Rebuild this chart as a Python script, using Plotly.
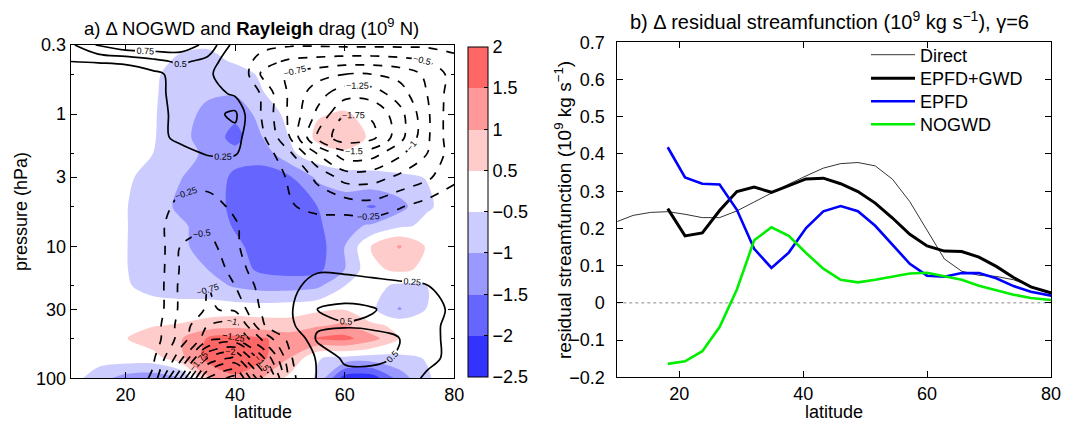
import numpy as np
import plotly.graph_objects as go

FONT = "Liberation Sans, Arial, Helvetica, sans-serif"
W, H = 1066, 421

# ---------------- Panel a: gridded fields ----------------
lat_grid = [10, 15, 20, 25, 30, 35, 40, 45, 50, 55, 60, 65, 70, 75, 80]
p_grid = [0.3, 0.4, 0.5, 0.7, 1, 1.5, 2, 3, 5, 7, 10, 15, 20, 30, 40, 50, 70, 100]

# Delta NOGWD (filled), 1e9 N
nogwd = [
    [0, 0, 0, 0, -0.3, -0.4, -0.3, -0.1, 0, 0, 0, 0, 0, 0, 0],
    [0, 0, 0, -0.15, -0.6, -0.65, -0.4, -0.15, 0, 0, 0, 0, 0, 0, 0],
    [0, 0, 0, -0.3, -0.75, -0.8, -0.7, -0.35, 0, 0, 0, 0, 0, 0, 0],
    [0, 0, 0, -0.35, -0.8, -0.95, -0.95, -0.52, -0.1, 0, 0, 0, 0, 0, 0],
    [0, 0, 0, -0.38, -0.85, -1.1, -1.35, -0.8, -0.2, 0.42, 0.55, 0.2, 0, 0, 0],
    [0, 0, 0, -0.4, -0.9, -1.15, -1.7, -1.0, -0.45, 0.6, 0.75, 0.35, 0, 0, 0],
    [0, 0, -0.1, -0.5, -0.9, -1.05, -1.3, -1.3, -0.6, 0.1, 0.35, 0, 0, 0, 0],
    [0, 0, -0.3, -0.7, -0.98, -1.2, -1.6, -1.7, -1.55, -0.9, -0.7, -0.6, -0.55, -0.48, -0.2],
    [0, 0, -0.45, -0.75, -1.1, -1.3, -1.6, -1.8, -1.75, -1.5, -1.3, -1.55, -1.2, -0.55, -0.2],
    [0, 0, -0.45, -0.75, -0.92, -1.2, -1.55, -1.85, -1.85, -1.6, -1.1, -0.95, -0.6, -0.3, 0],
    [0, 0, -0.45, -0.8, -0.95, -1.1, -1.4, -1.7, -1.9, -1.75, -1.0, 0.55, 1.05, 0.4, 0],
    [0, 0, -0.45, -0.75, -0.9, -1.0, -1.3, -1.6, -1.7, -1.65, -1.0, 0.3, 0.6, 0.3, 0],
    [0, 0, -0.4, -0.65, -0.75, -0.8, -1.05, -1.2, -1.2, -1.1, -0.5, -0.2, -0.6, -0.5, 0],
    [0, 0, 0, -0.1, -0.1, -0.05, 0, 0, 0.1, 0.3, 0.45, -0.3, -1.05, -0.45, 0],
    [0, 0, 0.2, 0.45, 0.55, 0.75, 0.85, 0.75, 0.7, 0.95, 1.1, 0.6, 0.3, 0, 0],
    [0, 0.1, 0.45, 0.8, 0.95, 1.55, 1.7, 1.55, 1.3, 1.55, 1.65, 1.2, 0.45, 0.1, 0],
    [0, 0, 0.05, 0.1, 0.85, 1.7, 1.9, 1.6, 1.0, -0.45, -0.6, -0.7, -0.6, -0.45, 0],
    [0, -0.8, -1.2, -1.3, -1.1, 0.9, 1.4, 1.0, 0.2, -0.55, -2.3, -2.3, -1.3, -0.55, 0],
]

# Rayleigh drag (contour lines), 1e9 N
rayleigh = [
    [0.45, 0.78, 0.95, 0.95, 0.9, 0.68, 0.15, -0.15, -0.22, -0.22, -0.2, -0.2, -0.2, -0.2, -0.15],
    [0.25, 0.27, 0.3, 0.42, 0.55, 0.42, 0.0, -0.4, -0.55, -0.6, -0.65, -0.65, -0.6, -0.5, -0.35],
    [0.05, 0.08, 0.1, 0.18, 0.35, 0.3, 0.05, -0.55, -0.8, -0.9, -1.0, -1.0, -0.92, -0.7, -0.4],
    [0, 0, 0, 0.15, 0.36, 0.38, 0.2, -0.3, -0.8, -1.15, -1.4, -1.38, -1.12, -0.75, -0.35],
    [0, 0, 0, 0.12, 0.35, 0.4, 0.56, -0.3, -0.8, -1.3, -1.74, -1.72, -1.35, -0.8, -0.3],
    [0, 0, 0, 0.1, 0.35, 0.42, 0.4, -0.2, -0.75, -1.55, -1.92, -1.82, -1.35, -0.8, -0.3],
    [0, 0, 0, 0.05, 0.1, 0.28, 0.28, -0.1, -0.45, -1.0, -1.4, -1.35, -1.05, -0.75, -0.35],
    [0, 0, 0, 0, -0.1, -0.15, -0.1, 0, -0.3, -0.55, -0.85, -0.85, -0.7, -0.55, -0.3],
    [0, 0, 0, -0.05, -0.35, -0.35, -0.2, -0.1, -0.22, -0.35, -0.35, -0.4, -0.27, -0.15, -0.1],
    [0, 0, 0, -0.1, -0.45, -0.45, -0.28, -0.05, 0, -0.1, -0.12, -0.12, -0.1, 0, 0],
    [0, 0, 0, -0.05, -0.5, -0.6, -0.3, 0, 0, 0, 0, 0, 0, 0, 0],
    [0, 0, 0, -0.05, -0.52, -0.7, -0.4, -0.05, 0.05, 0.22, 0.22, 0.2, 0.18, 0.1, 0],
    [0, 0, 0, -0.05, -0.55, -0.75, -0.5, -0.15, 0.18, 0.35, 0.32, 0.3, 0.28, 0.26, 0.15],
    [0, 0, 0, -0.05, -0.55, -0.78, -0.7, -0.2, 0.22, 0.5, 0.56, 0.52, 0.4, 0.35, 0.2],
    [0, 0, 0, -0.1, -0.6, -1.0, -1.1, -0.3, 0.2, 0.45, 0.48, 0.45, 0.38, 0.3, 0.2],
    [0, 0, 0, -0.1, -0.6, -1.15, -1.3, -0.7, -0.15, 0.55, 0.6, 0.6, 0.5, 0.35, 0.15],
    [0, 0, 0, -0.2, -0.9, -2.0, -2.3, -1.3, -0.3, 0.3, 0.55, 0.55, 0.48, 0.3, 0.2],
    [0, 0, 0, -0.3, -1.5, -2.8, -3.1, -2.0, -0.4, 0.28, 0.4, 0.42, 0.35, 0.22, 0.1],
]

fill_levels = [-2.5, -2, -1.5, -1, -0.5, 0.5, 1, 1.5, 2]
fill_labels = ["\u22122.5", "\u22122", "\u22121.5", "\u22121", "\u22120.5", "0.5", "1", "1.5", "2"]
band_colors = ["#3333ff", "#6666ff", "#9999ff", "#ccccff", "#ffffff", "#ffcccc", "#ff9999", "#ff6666"]

# ---------------- Panel b: line data ----------------
lat_t42 = [9.767, 12.558, 15.349, 18.139, 20.930, 23.721, 26.512, 29.302, 32.093,
           34.884, 37.674, 40.465, 43.256, 46.046, 48.837, 51.628, 54.419, 57.209,
           60.000, 62.791, 65.581, 68.372, 71.163, 73.953, 76.744, 79.535, 82.326]
lat_sub = lat_t42[3:]

direct = [0.217, 0.235, 0.243, 0.245, 0.238, 0.229, 0.229, 0.247, 0.271, 0.296, 0.319,
          0.341, 0.362, 0.374, 0.377, 0.368, 0.332, 0.272, 0.195, 0.118, 0.085, 0.074,
          0.071, 0.062, 0.045, 0.027, 0.012]
epfd_gwd = [0.253, 0.180, 0.188, 0.248, 0.299, 0.311, 0.297, 0.316, 0.333, 0.335, 0.320,
            0.299, 0.268, 0.228, 0.184, 0.153, 0.139, 0.138, 0.123, 0.098, 0.068, 0.043,
            0.028, 0.015]
epfd = [0.418, 0.337, 0.320, 0.318, 0.250, 0.145, 0.094, 0.135, 0.201, 0.246, 0.260,
        0.246, 0.207, 0.156, 0.105, 0.073, 0.070, 0.080, 0.080, 0.066, 0.045, 0.030,
        0.021, 0.012]
nogwd_line = [-0.164, -0.157, -0.130, -0.065, 0.036, 0.168, 0.203, 0.180, 0.134, 0.092,
              0.062, 0.055, 0.062, 0.071, 0.079, 0.081, 0.071, 0.062, 0.046, 0.034, 0.022,
              0.013, 0.008, 0.004]

series_names = ["Direct", "EPFD+GWD", "EPFD", "NOGWD"]
series_colors = ["black", "black", "#0000ff", "#00ee00"]
series_widths = [0.8, 3, 2.6, 2.6]
legend_rows_px = [55, 78.5, 101.5, 124.5]


def px_x(v):
    return v / W


def px_y(v):
    return 1 - v / H


fig = go.Figure()

# filled field mapped onto equal-width band index space
F_idx = np.interp(np.array(nogwd), fill_levels, np.arange(len(fill_levels)))
fig.add_trace(go.Contour(
    x=lat_grid, y=p_grid, z=F_idx, xaxis="x", yaxis="y",
    autocontour=False,
    contours=dict(start=1, end=7, size=1, coloring="fill", showlines=False),
    colorscale=[[k / 7, c] for k, c in enumerate(band_colors)],
    showscale=False, line=dict(width=0, smoothing=0.9), hoverinfo="skip",
))

R = np.array(rayleigh)
lab_font = dict(family=FONT, size=9, color="black")
fig.add_trace(go.Contour(
    x=lat_grid, y=p_grid, z=R, xaxis="x", yaxis="y", autocontour=False,
    contours=dict(start=-3, end=-0.25, size=0.25, coloring="lines",
                  showlabels=True, labelfont=lab_font),
    colorscale=[[0, "black"], [1, "black"]], showscale=False,
    line=dict(width=1.7, dash="dash", smoothing=1), hoverinfo="skip",
))
fig.add_trace(go.Contour(
    x=lat_grid, y=p_grid, z=R, xaxis="x", yaxis="y", autocontour=False,
    contours=dict(start=0.25, end=1.0, size=0.25, coloring="lines",
                  showlabels=True, labelfont=lab_font),
    colorscale=[[0, "black"], [1, "black"]], showscale=False,
    line=dict(width=1.7, smoothing=1), hoverinfo="skip",
))

# colorbar (equal-height bands)
cb_scale = []
for k, c in enumerate(band_colors):
    cb_scale += [[k / 8, c], [(k + 1) / 8, c]]
fig.add_trace(go.Scatter(
    x=[lat_grid[0]], y=[p_grid[-1]], xaxis="x", yaxis="y", mode="markers",
    marker=dict(size=1, opacity=0, color=[0], cmin=0, cmax=8, colorscale=cb_scale,
                showscale=True,
                colorbar=dict(x=px_x(468.3), xanchor="left", y=px_y(211.7), yanchor="middle",
                              len=330, lenmode="pixels", thickness=20, thicknessmode="pixels",
                              outlinewidth=1, outlinecolor="black", xpad=0, ypad=0,
                              tickmode="array", tickvals=list(range(9)), ticktext=fill_labels,
                              ticks="inside", ticklen=4, tickcolor="black",
                              tickfont=dict(family=FONT, size=18, color="black"))),
    showlegend=False, hoverinfo="skip",
))

# ---------------- Panel b traces ----------------
series_values = [direct, epfd_gwd, epfd, nogwd_line]
series_lats = [lat_t42, lat_sub, lat_sub, lat_sub]
legend_layouts = {}
for i, (nm, xs, ys, col, wd) in enumerate(zip(series_names, series_lats, series_values,
                                              series_colors, series_widths)):
    lname = "legend" if i == 0 else "legend%d" % (i + 1)
    fig.add_trace(go.Scatter(x=xs, y=ys, xaxis="x2", yaxis="y2", mode="lines",
                             name=nm, legend=lname, line=dict(color=col, width=wd)))
    legend_layouts[lname] = dict(
        x=px_x(866), xanchor="left", y=px_y(legend_rows_px[i]), yanchor="middle",
        bgcolor="rgba(0,0,0,0)", borderwidth=0, itemwidth=44,
        font=dict(family=FONT, size=18, color="black"))

tick_font = dict(family=FONT, size=18, color="black")
axis_common = dict(showline=True, linecolor="black", linewidth=1, mirror="ticks",
                   ticks="inside", ticklen=6, tickcolor="black", showgrid=False,
                   zeroline=False, tickfont=tick_font, automargin=False)

fig.update_layout(
    width=W, height=H, margin=dict(l=0, r=0, t=0, b=0),
    paper_bgcolor="white", plot_bgcolor="white",
    font=dict(family=FONT, size=18, color="black"),
    xaxis=dict(domain=[px_x(70.7), px_x(454.3)], range=[10, 80],
               tickvals=[20, 40, 60, 80], anchor="y", **axis_common),
    yaxis=dict(domain=[px_y(378.3), px_y(45)], type="log",
               range=[np.log10(100), np.log10(0.3)],
               tickvals=[0.3, 1, 3, 10, 30, 100], ticktext=["0.3", "1", "3", "10", "30", "100"],
               minor=dict(tickmode="array", tickvals=[0.5, 2, 5, 20, 50], ticklen=3,
                          ticks="inside", tickcolor="black"),
               anchor="x", **axis_common),
    xaxis2=dict(domain=[px_x(617.3), px_x(1051)], range=[10, 80],
                tickvals=[20, 40, 60, 80], anchor="y2", **axis_common),
    yaxis2=dict(domain=[px_y(377.3), px_y(42.3)], range=[-0.2, 0.7], dtick=0.1,
                tick0=0, anchor="x2", ticklabelstandoff=8, **axis_common),
    shapes=[dict(type="line", xref="x2 domain", x0=0, x1=1, yref="y2", y0=0, y1=0,
                 line=dict(color="#888888", width=1, dash="dot"), layer="below")],
    annotations=[
        dict(text="a) \u0394 NOGWD and <b>Rayleigh</b> drag (10<sup>9</sup> N)",
             x=px_x(251), y=px_y(27), xref="paper", yref="paper", showarrow=False,
             xanchor="center", yanchor="middle", font=dict(family=FONT, size=18.5)),
        dict(text="b) \u0394 residual streamfunction (10<sup>9</sup> kg s<sup>\u22121</sup>), \u03b3=6",
             x=px_x(829), y=px_y(21), xref="paper", yref="paper", showarrow=False,
             xanchor="center", yanchor="middle", font=dict(family=FONT, size=20)),
        dict(text="pressure (hPa)", x=px_x(21), y=px_y(212), xref="paper", yref="paper",
             showarrow=False, textangle=-90, xanchor="center", yanchor="middle",
             font=dict(family=FONT, size=18)),
        dict(text="latitude", x=px_x(263), y=px_y(412), xref="paper", yref="paper",
             showarrow=False, xanchor="center", yanchor="middle", font=dict(family=FONT, size=18)),
        dict(text="residual streamfunction (10<sup>9</sup> kg s<sup>\u22121</sup>)",
             x=px_x(563), y=px_y(210), xref="paper", yref="paper", showarrow=False,
             textangle=-90, xanchor="center", yanchor="middle", font=dict(family=FONT, size=19)),
        dict(text="latitude", x=px_x(834), y=px_y(412), xref="paper", yref="paper",
             showarrow=False, xanchor="center", yanchor="middle", font=dict(family=FONT, size=18)),
    ],
    **legend_layouts,
)

fig.write_html("out.html")
